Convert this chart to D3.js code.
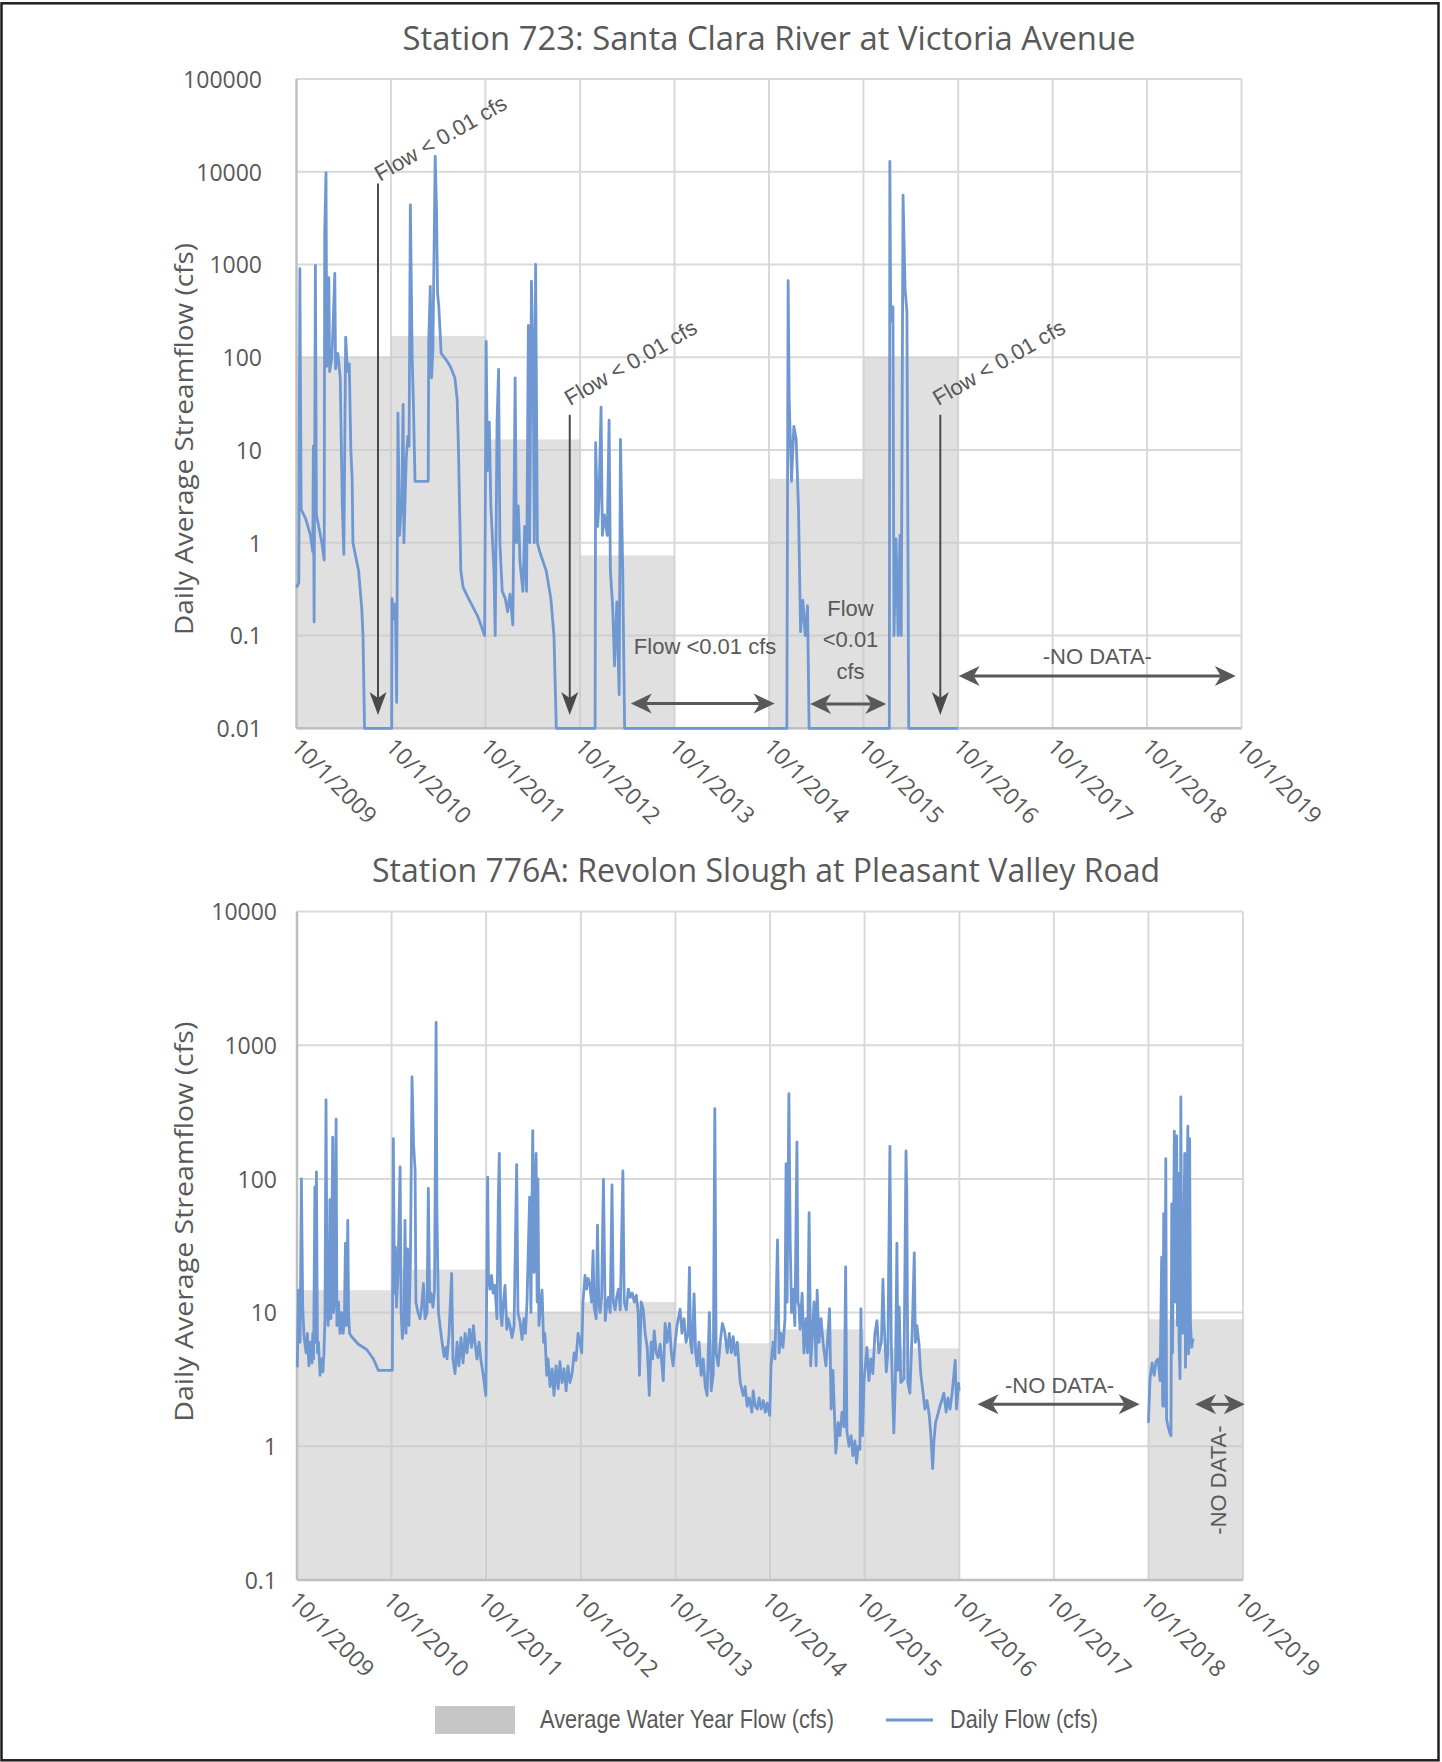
<!DOCTYPE html>
<html>
<head>
<meta charset="utf-8">
<script src="https://cdn.jsdelivr.net/npm/d3@7"></script>
<style>
  body { margin: 0; background: #fff; }
</style>
</head>
<body>
<svg id="chart" width="1442" height="1762"></svg>
<script>
// water years (bar i spans 10/1 of yearStarts[i] to yearStarts[i+1])
const waterYears = [2010, 2011, 2012, 2013, 2014, 2015, 2016, 2017, 2018, 2019];
const yearStarts = ['2009-10-01', '2010-10-01', '2011-10-01', '2012-10-01', '2013-10-01',
    '2014-10-01', '2015-10-01', '2016-10-01', '2017-10-01', '2018-10-01', '2019-10-01'];

// average water year flow (cfs), null = no data
const avgFlow723 = [100, 170, 13, 0.73, null, 4.9, 100, null, null, null];
const avgFlow776A = [14.7, 21, 10, 12, 5.9, 7.5, 5.4, null, null, 8.9];

const ticks723 = [0.01, 0.1, 1, 10, 100, 1000, 10000, 100000];
const ticks776A = [0.1, 1, 10, 100, 1000, 10000];

// daily flow, Station 723 (0.01 = flow < 0.01 cfs)
const daily723 = [
    ['2009-10-01', 0.33], ['2009-10-10', 0.37], ['2009-10-14', 900], ['2009-10-19', 2.3],
    ['2009-11-06', 1.8], ['2009-11-24', 1.2], ['2009-12-03', 0.8], ['2009-12-05', 11],
    ['2009-12-08', 0.14], ['2009-12-13', 980], ['2009-12-17', 2.0], ['2010-01-07', 1.0],
    ['2010-01-16', 0.65], ['2010-01-18', 2200], ['2010-01-23', 9800], ['2010-01-26', 80],
    ['2010-02-03', 720], ['2010-02-06', 70], ['2010-02-15', 100], ['2010-02-26', 800],
    ['2010-03-01', 75], ['2010-03-10', 110], ['2010-03-19', 60], ['2010-03-27', 2.5],
    ['2010-04-02', 0.75], ['2010-04-09', 165], ['2010-04-16', 70], ['2010-04-23', 85],
    ['2010-04-29', 10], ['2010-05-04', 5], ['2010-05-07', 1.0], ['2010-05-29', 0.5],
    ['2010-06-10', 0.2], ['2010-06-15', 0.1], ['2010-06-21', 0.01], ['2010-10-04', 0.01],
    ['2010-10-05', 0.25], ['2010-10-14', 0.15], ['2010-10-18', 0.22], ['2010-10-23', 0.019],
    ['2010-10-28', 25], ['2010-11-03', 1.2], ['2010-11-12', 3], ['2010-11-17', 31],
    ['2010-11-20', 1.0], ['2010-11-29', 8], ['2010-12-05', 14], ['2010-12-10', 11],
    ['2010-12-15', 4400], ['2010-12-22', 100], ['2010-12-27', 30], ['2011-01-02', 4.6],
    ['2011-02-22', 4.6], ['2011-02-24', 145], ['2011-03-02', 580], ['2011-03-07', 60],
    ['2011-03-12', 120], ['2011-03-21', 14700], ['2011-03-26', 4100], ['2011-03-30', 500],
    ['2011-04-04', 350], ['2011-04-13', 110], ['2011-05-01', 95], ['2011-05-18', 80],
    ['2011-06-05', 60], ['2011-06-14', 35], ['2011-06-19', 10], ['2011-06-28', 0.5],
    ['2011-07-07', 0.33], ['2011-07-28', 0.25], ['2011-09-02', 0.16], ['2011-09-28', 0.1],
    ['2011-10-04', 148], ['2011-10-09', 6], ['2011-10-16', 20], ['2011-10-22', 2.5],
    ['2011-10-29', 1.0], ['2011-11-03', 0.5], ['2011-11-08', 0.1], ['2011-11-15', 20],
    ['2011-11-21', 74], ['2011-11-26', 1.0], ['2011-12-05', 0.3], ['2011-12-17', 0.25],
    ['2011-12-26', 0.18], ['2012-01-04', 0.28], ['2012-01-15', 0.13], ['2012-01-24', 60],
    ['2012-01-29', 1.0], ['2012-02-05', 2.5], ['2012-02-12', 0.6], ['2012-02-23', 0.3],
    ['2012-03-01', 1.5], ['2012-03-08', 0.3], ['2012-03-15', 220], ['2012-03-20', 1.0],
    ['2012-03-27', 660], ['2012-04-02', 100], ['2012-04-07', 1.0], ['2012-04-12', 1000],
    ['2012-04-19', 1.0], ['2012-04-28', 0.8], ['2012-05-23', 0.5], ['2012-06-10', 0.25],
    ['2012-06-22', 0.1], ['2012-07-01', 0.01], ['2012-11-28', 0.01], ['2012-11-30', 12],
    ['2012-12-08', 1.5], ['2012-12-13', 2.8], ['2012-12-21', 29], ['2012-12-26', 1.2],
    ['2013-01-03', 2.0], ['2013-01-14', 1.2], ['2013-01-21', 21], ['2013-01-26', 0.5],
    ['2013-02-04', 0.2], ['2013-02-11', 0.047], ['2013-02-20', 0.23], ['2013-03-01', 0.023],
    ['2013-03-06', 13], ['2013-03-15', 0.45], ['2013-03-22', 0.01], ['2014-12-09', 0.01],
    ['2014-12-14', 670], ['2014-12-18', 35], ['2014-12-27', 4.6], ['2015-01-05', 18],
    ['2015-01-14', 13], ['2015-01-23', 2.3], ['2015-01-31', 0.11], ['2015-02-09', 0.24],
    ['2015-02-18', 0.1], ['2015-02-27', 0.21], ['2015-03-05', 0.01], ['2016-01-09', 0.01],
    ['2016-01-11', 12900], ['2016-01-14', 390], ['2016-01-18', 245], ['2016-01-23', 350],
    ['2016-01-27', 0.1], ['2016-02-04', 1.1], ['2016-02-12', 0.1], ['2016-02-19', 1.2],
    ['2016-02-24', 0.1], ['2016-03-02', 5600], ['2016-03-10', 540], ['2016-03-17', 310],
    ['2016-03-24', 0.01], ['2016-09-30', 0.01]
];

// daily flow, Station 776A (null = gap in record)
const daily776A = [
    ['2009-10-02', 3.9], ['2009-10-07', 14.7], ['2009-10-13', 6], ['2009-10-18', 100],
    ['2009-10-23', 11], ['2009-10-28', 6.7], ['2009-11-05', 5], ['2009-11-10', 7],
    ['2009-11-16', 4], ['2009-11-22', 6], ['2009-11-28', 4.2], ['2009-12-01', 7],
    ['2009-12-04', 4.5], ['2009-12-09', 87], ['2009-12-11', 6], ['2009-12-15', 113],
    ['2009-12-19', 5], ['2009-12-23', 6], ['2009-12-29', 3.4], ['2010-01-04', 4.5],
    ['2010-01-09', 3.6], ['2010-01-13', 5], ['2010-01-17', 9], ['2010-01-21', 390],
    ['2010-01-25', 13], ['2010-01-29', 8], ['2010-02-02', 12], ['2010-02-05', 70],
    ['2010-02-09', 9], ['2010-02-16', 205], ['2010-02-19', 10], ['2010-02-23', 13],
    ['2010-03-01', 280], ['2010-03-04', 8], ['2010-03-10', 12], ['2010-03-16', 7],
    ['2010-03-22', 10], ['2010-03-28', 7], ['2010-04-02', 9], ['2010-04-06', 33],
    ['2010-04-10', 8], ['2010-04-15', 49], ['2010-04-18', 10], ['2010-04-22', 7],
    ['2010-04-30', 6.6], ['2010-05-26', 5.8], ['2010-06-27', 5.3], ['2010-07-23', 4.5],
    ['2010-08-11', 3.7], ['2010-10-04', 3.7],
    ['2010-10-08', 200], ['2010-10-12', 14], ['2010-10-16', 31], ['2010-10-20', 11],
    ['2010-10-26', 20], ['2010-11-03', 123], ['2010-11-07', 10], ['2010-11-12', 6.4],
    ['2010-11-18', 9], ['2010-11-22', 49], ['2010-11-26', 7], ['2010-12-02', 30],
    ['2010-12-07', 8], ['2010-12-13', 25], ['2010-12-19', 580], ['2010-12-25', 180],
    ['2010-12-31', 116], ['2011-01-03', 12], ['2011-01-11', 10], ['2011-01-19', 9],
    ['2011-01-25', 11], ['2011-02-01', 16.5], ['2011-02-07', 9], ['2011-02-15', 10],
    ['2011-02-20', 85], ['2011-02-25', 12], ['2011-03-02', 14], ['2011-03-10', 11],
    ['2011-03-16', 15], ['2011-03-22', 1480], ['2011-03-25', 62], ['2011-03-31', 10],
    ['2011-04-06', 8], ['2011-04-14', 6], ['2011-04-22', 4.7], ['2011-04-29', 5.5],
    ['2011-05-03', 4.5], ['2011-05-11', 7], ['2011-05-21', 19.6], ['2011-05-26', 4.5],
    ['2011-06-03', 3.5], ['2011-06-11', 6], ['2011-06-18', 4], ['2011-06-26', 6.5],
    ['2011-07-04', 4.2], ['2011-07-12', 7], ['2011-07-19', 5], ['2011-07-29', 7.5],
    ['2011-08-06', 5.5], ['2011-08-13', 8], ['2011-08-19', 6], ['2011-08-27', 4.5],
    ['2011-09-04', 6], ['2011-09-11', 4.4], ['2011-09-20', 3.4], ['2011-09-30', 2.4],
    ['2011-10-07', 103], ['2011-10-10', 19], ['2011-10-16', 15], ['2011-10-22', 19],
    ['2011-10-28', 14], ['2011-11-04', 16], ['2011-11-12', 9], ['2011-11-17', 65],
    ['2011-11-21', 155], ['2011-11-26', 10], ['2011-12-01', 8], ['2011-12-07', 12],
    ['2011-12-13', 16], ['2011-12-20', 7.5], ['2011-12-25', 9], ['2012-01-01', 8],
    ['2012-01-09', 6.5], ['2012-01-17', 8], ['2012-01-27', 128], ['2012-02-01', 10],
    ['2012-02-09', 8.5], ['2012-02-17', 6.3], ['2012-02-24', 9], ['2012-03-01', 7],
    ['2012-03-07', 12], ['2012-03-17', 73], ['2012-03-22', 10], ['2012-03-29', 230],
    ['2012-04-03', 20], ['2012-04-11', 155], ['2012-04-15', 12], ['2012-04-18', 100],
    ['2012-04-22', 8], ['2012-04-28', 11], ['2012-05-04', 14.7], ['2012-05-10', 6],
    ['2012-05-15', 7], ['2012-05-22', 3.4], ['2012-05-27', 4.5], ['2012-06-04', 2.8],
    ['2012-06-12', 3.8], ['2012-06-19', 2.4], ['2012-06-27', 4], ['2012-07-05', 2.7],
    ['2012-07-12', 4.3], ['2012-07-20', 3], ['2012-07-28', 3.8], ['2012-08-05', 2.6],
    ['2012-08-12', 4], ['2012-08-20', 3], ['2012-08-28', 3.5], ['2012-09-05', 5],
    ['2012-09-12', 4.4], ['2012-09-20', 7], ['2012-09-28', 6],
    ['2012-10-04', 5], ['2012-10-09', 12], ['2012-10-17', 19], ['2012-10-23', 15],
    ['2012-10-29', 18], ['2012-11-05', 16], ['2012-11-11', 12], ['2012-11-17', 29],
    ['2012-11-21', 11], ['2012-11-29', 9], ['2012-12-04', 45], ['2012-12-09', 12],
    ['2012-12-14', 10], ['2012-12-20', 13], ['2012-12-27', 99], ['2013-01-03', 8.7],
    ['2013-01-08', 11], ['2013-01-15', 13], ['2013-01-22', 10], ['2013-01-29', 90],
    ['2013-02-03', 12], ['2013-02-10', 10.5], ['2013-02-16', 13], ['2013-02-23', 15],
    ['2013-03-02', 10.5], ['2013-03-12', 115], ['2013-03-17', 12], ['2013-03-25', 10.5],
    ['2013-04-02', 15], ['2013-04-10', 13], ['2013-04-17', 14], ['2013-04-25', 12],
    ['2013-05-03', 13.5], ['2013-05-10', 10], ['2013-05-15', 3.4], ['2013-05-22', 12],
    ['2013-05-30', 10.5], ['2013-06-06', 7], ['2013-06-14', 5.5], ['2013-06-22', 2.4],
    ['2013-06-29', 6], ['2013-07-05', 4.5], ['2013-07-11', 7.3], ['2013-07-19', 5],
    ['2013-07-26', 4.6], ['2013-08-03', 5.8], ['2013-08-15', 3.1], ['2013-08-22', 8.3],
    ['2013-08-30', 6], ['2013-09-08', 8.3], ['2013-09-15', 5], ['2013-09-22', 4],
    ['2013-09-30', 6],
    ['2013-10-07', 8], ['2013-10-19', 10.6], ['2013-10-26', 7], ['2013-11-03', 9],
    ['2013-11-11', 6], ['2013-11-19', 7], ['2013-11-24', 21.8], ['2013-11-28', 6],
    ['2013-12-04', 5], ['2013-12-12', 13.8], ['2013-12-18', 5], ['2013-12-24', 4],
    ['2013-12-31', 6], ['2014-01-08', 3.4], ['2014-01-16', 4.5], ['2014-01-24', 2.8],
    ['2014-01-31', 2.4], ['2014-02-09', 10], ['2014-02-16', 2.6], ['2014-02-24', 3.5],
    ['2014-03-02', 335], ['2014-03-07', 5], ['2014-03-15', 4], ['2014-03-23', 6],
    ['2014-03-31', 8.3], ['2014-04-09', 7.2], ['2014-04-19', 5], ['2014-04-27', 7],
    ['2014-05-05', 5], ['2014-05-12', 6.6], ['2014-05-20', 4.8], ['2014-05-28', 6],
    ['2014-06-08', 3], ['2014-06-20', 2.4], ['2014-06-27', 2.8], ['2014-07-05', 2.0],
    ['2014-07-13', 2.3], ['2014-07-23', 1.8], ['2014-07-28', 2.6], ['2014-08-05', 2.0],
    ['2014-08-13', 1.9], ['2014-08-20', 2.3], ['2014-08-28', 1.9], ['2014-09-05', 2.2],
    ['2014-09-13', 1.8], ['2014-09-20', 2.1], ['2014-09-30', 1.7],
    ['2014-10-05', 4], ['2014-10-13', 6], ['2014-10-20', 4.5], ['2014-10-30', 35],
    ['2014-11-05', 5], ['2014-11-12', 7], ['2014-11-20', 5.5], ['2014-11-28', 9],
    ['2014-12-02', 130], ['2014-12-06', 12], ['2014-12-13', 434], ['2014-12-18', 35],
    ['2014-12-23', 10], ['2014-12-29', 15], ['2015-01-05', 8], ['2015-01-13', 189],
    ['2015-01-17', 12], ['2015-01-21', 11], ['2015-01-25', 7.5], ['2015-02-02', 14],
    ['2015-02-09', 5], ['2015-02-17', 9], ['2015-02-23', 5], ['2015-03-01', 56],
    ['2015-03-07', 4], ['2015-03-12', 6], ['2015-03-20', 12], ['2015-03-28', 4],
    ['2015-04-01', 14.7], ['2015-04-08', 6], ['2015-04-16', 9], ['2015-04-24', 5.9],
    ['2015-05-05', 4], ['2015-05-19', 10.7], ['2015-05-25', 1.9], ['2015-06-01', 3.7],
    ['2015-06-12', 0.89], ['2015-06-21', 1.5], ['2015-06-28', 1.2], ['2015-07-06', 1.8],
    ['2015-07-14', 1.4], ['2015-07-20', 22], ['2015-07-25', 1.3], ['2015-08-02', 1.0],
    ['2015-08-10', 1.2], ['2015-08-17', 0.85], ['2015-08-25', 1.1], ['2015-08-31', 0.75],
    ['2015-09-06', 1.0], ['2015-09-13', 0.95], ['2015-09-17', 10.7], ['2015-09-23', 1.2],
    ['2015-09-29', 3.1],
    ['2015-10-04', 4], ['2015-10-10', 5.5], ['2015-10-18', 3.1], ['2015-10-25', 4.5],
    ['2015-11-02', 3.5], ['2015-11-10', 7], ['2015-11-18', 8.7], ['2015-11-25', 5],
    ['2015-12-05', 6], ['2015-12-11', 17.7], ['2015-12-16', 8], ['2015-12-24', 3.6],
    ['2015-12-30', 5], ['2016-01-07', 175], ['2016-01-12', 6], ['2016-01-18', 2.3],
    ['2016-01-22', 1.26], ['2016-01-28', 3], ['2016-02-03', 33], ['2016-02-07', 3.7],
    ['2016-02-12', 11], ['2016-02-18', 3], ['2016-03-01', 3.2], ['2016-03-09', 162],
    ['2016-03-12', 82], ['2016-03-16', 3], ['2016-03-24', 2.5], ['2016-04-03', 8.4],
    ['2016-04-10', 28], ['2016-04-14', 6], ['2016-04-20', 8], ['2016-04-28', 5.9],
    ['2016-05-05', 3.5], ['2016-05-13', 2.6], ['2016-05-21', 1.9], ['2016-05-29', 2.2],
    ['2016-06-07', 1.7], ['2016-06-13', 1.2], ['2016-06-20', 0.68], ['2016-06-25', 1.1],
    ['2016-07-01', 1.5], ['2016-07-09', 1.7], ['2016-07-18', 2.0], ['2016-07-25', 2.2],
    ['2016-08-02', 2.5], ['2016-08-11', 1.8], ['2016-08-18', 2.3], ['2016-08-26', 1.9],
    ['2016-09-03', 2.5], ['2016-09-15', 4.4], ['2016-09-20', 1.9], ['2016-09-28', 2.95],
    ['2016-09-30', 2.6],
    ['2016-10-01', null],
    ['2018-10-01', 1.5], ['2018-10-07', 3.2], ['2018-10-15', 4.2], ['2018-10-23', 3.4],
    ['2018-10-30', 4.3], ['2018-11-07', 4.5], ['2018-11-15', 3.1], ['2018-11-21', 26],
    ['2018-11-25', 2.0], ['2018-11-29', 55], ['2018-12-02', 2], ['2018-12-07', 142],
    ['2018-12-10', 1.6], ['2018-12-16', 1.4], ['2018-12-23', 1.25], ['2018-12-27', 1.2],
    ['2018-12-30', 65], ['2019-01-02', 5], ['2019-01-09', 228], ['2019-01-14', 12],
    ['2019-01-18', 210], ['2019-01-21', 8], ['2019-01-25', 110], ['2019-01-27', 6],
    ['2019-01-31', 3.2], ['2019-02-03', 410], ['2019-02-06', 20], ['2019-02-10', 7],
    ['2019-02-18', 155], ['2019-02-21', 3.9], ['2019-02-24', 17], ['2019-03-02', 248],
    ['2019-03-05', 4.9], ['2019-03-09', 200], ['2019-03-12', 8.3], ['2019-03-17', 5.5],
    ['2019-03-22', 6.4]
];

// annotations, placed in data space [date, cfs]
const pointers723 = [
    {date: '2010-08-12', from: 7450, to: 0.0139},
    {date: '2012-08-22', from: 24, to: 0.0139},
    {date: '2016-07-24', from: 24, to: 0.0139}
];
const spans723 = [
    {from: '2013-04-15', to: '2014-10-23', value: 0.0185},
    {from: '2015-03-09', to: '2015-12-28', value: 0.0183},
    {from: '2016-10-03', to: '2019-09-09', value: 0.0367}
];
const notes723 = [
    {text: 'Flow < 0.01 cfs', date: '2011-04-10', value: 23000, angle: -30},
    {text: 'Flow < 0.01 cfs', date: '2013-04-14', value: 88, angle: -30},
    {text: 'Flow < 0.01 cfs', date: '2017-03-07', value: 88, angle: -30},
    {text: 'Flow <0.01 cfs', date: '2014-01-27', value: 0.0767, angle: 0},
    {text: 'Flow', date: '2015-08-12', value: 0.197, angle: 0},
    {text: '<0.01', date: '2015-08-12', value: 0.0906, angle: 0},
    {text: 'cfs', date: '2015-08-12', value: 0.0409, angle: 0},
    {text: '-NO DATA-', date: '2018-03-23', value: 0.0598, angle: 0}
];
const spans776A = [
    {from: '2016-12-10', to: '2018-08-28', value: 2.06},
    {from: '2019-03-30', to: '2019-10-08', value: 2.06}
];
const notes776A = [
    {text: '-NO DATA-', date: '2017-10-23', value: 2.87, angle: 0},
    {text: '-NO DATA-', date: '2019-06-29', value: 0.559, angle: -90}
];

const parse = d3.timeParse('%Y-%m-%d');
const lineColor = '#6f98d2';
const textColor = '#595959';
const svg = d3.select('#chart');

svg.append('rect')
    .attr('x', 1.5).attr('y', 3.3)
    .attr('width', 1437).attr('height', 1757)
    .attr('fill', 'none').attr('stroke', '#231f20').attr('stroke-width', 2.5);

function arrowHead(g, tip, dir, len, half, notch, color) {
    const [tx, ty] = tip, [ux, uy] = dir;
    const px = -uy, py = ux;
    const bx = tx - ux * len, by = ty - uy * len;
    const nx = tx - ux * (len - notch), ny = ty - uy * (len - notch);
    g.append('path')
        .attr('d', `M${tx},${ty}L${bx + px * half},${by + py * half}L${nx},${ny}L${bx - px * half},${by - py * half}Z`)
        .attr('fill', color);
    return [nx, ny];
}

function drawPanel(cfg) {
    const x = d3.scaleTime()
        .domain([parse(yearStarts[0]), parse(yearStarts[yearStarts.length - 1])])
        .range([cfg.left, cfg.right]);
    const y = d3.scaleLog()
        .domain(cfg.yDomain)
        .range([cfg.bottom, cfg.top]);
    const g = svg.append('g');

    // gridlines
    g.append('g').selectAll('line')
        .data(cfg.yTicks)
        .join('line')
        .attr('x1', cfg.left).attr('x2', cfg.right)
        .attr('y1', d => y(d)).attr('y2', d => y(d))
        .attr('stroke', '#d9d9d9').attr('stroke-width', 2);
    g.append('g').selectAll('line')
        .data(yearStarts.slice(1))
        .join('line')
        .attr('x1', d => x(parse(d))).attr('x2', d => x(parse(d)))
        .attr('y1', cfg.top).attr('y2', cfg.bottom)
        .attr('stroke', '#d9d9d9').attr('stroke-width', 2);

    // average water year flow (semi-transparent so gridlines show through)
    const bars = waterYears
        .map((wy, i) => ({start: parse(yearStarts[i]), end: parse(yearStarts[i + 1]), value: cfg.avg[i]}))
        .filter(d => d.value != null);
    g.append('g').selectAll('rect')
        .data(bars)
        .join('rect')
        .attr('x', d => x(d.start))
        .attr('width', d => x(d.end) - x(d.start))
        .attr('y', d => y(d.value))
        .attr('height', d => cfg.bottom - y(d.value))
        .attr('fill', '#c6c6c6')
        .attr('fill-opacity', 0.55);

    // axis lines
    g.append('line')
        .attr('x1', cfg.left).attr('x2', cfg.left)
        .attr('y1', cfg.top).attr('y2', cfg.bottom)
        .attr('stroke', '#bfbfbf').attr('stroke-width', 2.5);
    g.append('line')
        .attr('x1', cfg.left).attr('x2', cfg.right)
        .attr('y1', cfg.bottom).attr('y2', cfg.bottom)
        .attr('stroke', '#bfbfbf').attr('stroke-width', 2.5);

    // y axis labels
    g.append('g')
        .attr('transform', `translate(${cfg.left},0)`)
        .call(d3.axisLeft(y).tickValues(cfg.yTicks).tickFormat(d => String(d)).tickSize(0).tickPadding(cfg.left - cfg.labelRight))
        .call(a => a.select('.domain').remove())
        .attr('font-family', '"Open Sans", sans-serif')
        .attr('font-size', 23)
        .selectAll('text').attr('fill', textColor).attr('dy', '0.36em');

    // x axis labels, rotated 45 degrees
    g.append('g')
        .attr('transform', `translate(0,${cfg.bottom})`)
        .call(d3.axisBottom(x).tickValues(yearStarts.map(parse)).tickFormat(d3.timeFormat('%-m/%-d/%Y')).tickSize(0))
        .call(a => a.select('.domain').remove())
        .attr('font-family', '"Open Sans", sans-serif')
        .attr('font-size', 23)
        .selectAll('text')
        .attr('fill', textColor)
        .attr('text-anchor', 'start')
        .attr('x', 0).attr('y', 0).attr('dy', null)
        .attr('transform', `translate(${cfg.xLabelShift[0]},${cfg.xLabelShift[1]}) rotate(45)`);

    // daily flow line
    const line = d3.line()
        .defined(d => d[1] != null)
        .x(d => x(parse(d[0])))
        .y(d => y(d[1]));
    g.append('path')
        .datum(cfg.daily)
        .attr('d', line)
        .attr('fill', 'none')
        .attr('stroke', lineColor)
        .attr('stroke-width', 2.8)
        .attr('stroke-linejoin', 'round');

    // titles
    g.append('text')
        .attr('x', (cfg.left + cfg.right) / 2 + cfg.titleShift)
        .attr('y', cfg.titleBaseline)
        .attr('text-anchor', 'middle')
        .attr('font-family', '"Open Sans", sans-serif')
        .attr('font-size', 32)
        .attr('fill', textColor)
        .attr('textLength', cfg.titleLength)
        .attr('lengthAdjust', 'spacingAndGlyphs')
        .text(cfg.title);
    g.append('text')
        .attr('transform', `translate(184,${cfg.yTitleCenter}) rotate(-90)`)
        .attr('text-anchor', 'middle')
        .attr('dy', '0.35em')
        .attr('font-family', '"Open Sans", sans-serif')
        .attr('font-size', 26)
        .attr('fill', textColor)
        .attr('textLength', cfg.yTitleLength)
        .attr('lengthAdjust', 'spacingAndGlyphs')
        .text('Daily Average Streamflow (cfs)');

    // annotations
    const ann = g.append('g');
    (cfg.pointers || []).forEach(p => {
        const px = x(parse(p.date));
        const [nx, ny] = arrowHead(ann, [px, y(p.to)], [0, 1], 23, 8.5, 6, '#4a4a4a');
        ann.append('line')
            .attr('x1', px).attr('x2', nx)
            .attr('y1', y(p.from)).attr('y2', ny)
            .attr('stroke', '#4a4a4a').attr('stroke-width', 2);
    });
    (cfg.spans || []).forEach(s => {
        const yy = y(s.value);
        const [ax] = arrowHead(ann, [x(parse(s.from)), yy], [-1, 0], 21, 10, 6, '#595959');
        const [bx] = arrowHead(ann, [x(parse(s.to)), yy], [1, 0], 21, 10, 6, '#595959');
        ann.append('line')
            .attr('x1', ax).attr('x2', bx)
            .attr('y1', yy).attr('y2', yy)
            .attr('stroke', '#595959').attr('stroke-width', 3);
    });
    ann.selectAll('text.note')
        .data(cfg.notes || [])
        .join('text')
        .attr('class', 'note')
        .attr('transform', d => `translate(${x(parse(d.date))},${y(d.value)}) rotate(${d.angle})`)
        .attr('text-anchor', 'middle')
        .attr('dy', '0.35em')
        .attr('font-family', '"Liberation Sans", Arial, sans-serif')
        .attr('font-size', 22)
        .attr('fill', textColor)
        .text(d => d.text);
}

drawPanel({
    title: 'Station 723: Santa Clara River at Victoria Avenue',
    left: 296.5, right: 1241.5, top: 79, bottom: 728.3,
    yDomain: [0.01, 100000], yTicks: ticks723, labelRight: 262,
    xLabelShift: [-7, 20],
    titleBaseline: 50, titleShift: 0, titleLength: 733,
    yTitleCenter: 439, yTitleLength: 392,
    avg: avgFlow723, daily: daily723,
    pointers: pointers723, spans: spans723, notes: notes723
});

drawPanel({
    title: 'Station 776A: Revolon Slough at Pleasant Valley Road',
    left: 297, right: 1243, top: 911.5, bottom: 1580,
    yDomain: [0.1, 10000], yTicks: ticks776A, labelRight: 277,
    xLabelShift: [-10, 21.6],
    titleBaseline: 881.7, titleShift: -4, titleLength: 788,
    yTitleCenter: 1221.7, yTitleLength: 400,
    avg: avgFlow776A, daily: daily776A,
    spans: spans776A, notes: notes776A
});

// legend
const legend = svg.append('g');
legend.append('rect')
    .attr('x', 435).attr('y', 1706).attr('width', 80).attr('height', 28)
    .attr('fill', '#c6c6c6');
legend.append('text')
    .attr('x', 540).attr('y', 1728)
    .attr('font-family', '"Liberation Sans Narrow", "Liberation Sans", Arial, sans-serif')
    .attr('font-size', 25)
    .attr('fill', textColor)
    .attr('textLength', 294).attr('lengthAdjust', 'spacingAndGlyphs')
    .text('Average Water Year Flow (cfs)');
legend.append('line')
    .attr('x1', 886).attr('x2', 933).attr('y1', 1720).attr('y2', 1720)
    .attr('stroke', lineColor).attr('stroke-width', 3);
legend.append('text')
    .attr('x', 950).attr('y', 1728)
    .attr('font-family', '"Liberation Sans Narrow", "Liberation Sans", Arial, sans-serif')
    .attr('font-size', 25)
    .attr('fill', textColor)
    .attr('textLength', 148).attr('lengthAdjust', 'spacingAndGlyphs')
    .text('Daily Flow (cfs)');
</script>
</body>
</html>
